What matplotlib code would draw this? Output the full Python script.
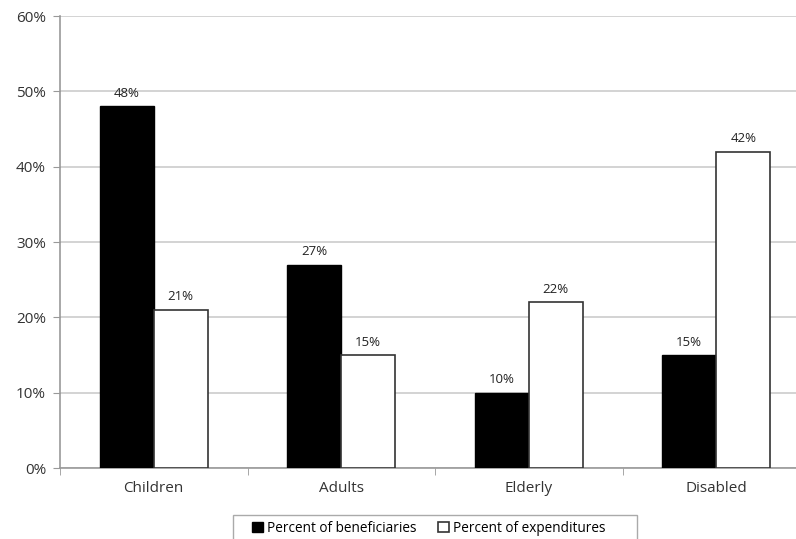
import matplotlib
matplotlib.use("Agg")
import matplotlib.pyplot as plt
from matplotlib.patches import Rectangle
import numpy as np

categories = ["Children", "Adults", "Elderly", "Disabled"]
beneficiaries = [48, 27, 10, 15]
expenditures = [21, 15, 22, 42]
series_names = ["Percent of beneficiaries", "Percent of expenditures"]
y_ticks = [0, 10, 20, 30, 40, 50, 60]

plt.rcParams["font.family"] = ["Open Sans", "DejaVu Sans"]

W, H = 796, 539
fig = plt.figure(figsize=(W / 100, H / 100), dpi=100)
# the plot area runs past the right edge of the canvas
ax = fig.add_axes([60 / W, 1 - 468 / H, 750 / W, 452 / H])

x = np.arange(len(categories))
w = 0.288
b1 = ax.bar(x - w / 2, beneficiaries, w, color="black", edgecolor="black",
            linewidth=1, label=series_names[0], zorder=3)
b2 = ax.bar(x + w / 2, expenditures, w, color="white", edgecolor="#333333",
            linewidth=1.2, label=series_names[1], zorder=3)

for rect, v in list(zip(b1, beneficiaries)) + list(zip(b2, expenditures)):
    ax.text(rect.get_x() + rect.get_width() / 2, v + 1.7, f"{v}%",
            ha="center", va="center", fontsize=9.5, color="#222222")

ax.set_xlim(-0.5, len(categories) - 0.5)
ax.set_ylim(0, 60)
ax.set_yticks(y_ticks)
ax.set_yticklabels([f"{t}%" for t in y_ticks], fontsize=11, color="#333333")
ax.set_xticks(x)
ax.set_xticklabels(categories, fontsize=11, color="#333333")
ax.tick_params(axis="x", length=0, pad=9)
ax.tick_params(axis="y", length=5, color="#999999", pad=5)
# category separator ticks along the baseline
ax.set_xticks(np.arange(len(categories) + 1) - 0.5, minor=True)
ax.tick_params(axis="x", which="minor", length=5, color="#999999")

ax.yaxis.grid(True, color="#cccccc", linewidth=1.2, zorder=0)
ax.set_axisbelow(True)
for s in ["top", "right"]:
    ax.spines[s].set_visible(False)
ax.spines["left"].set_color("#999999")
ax.spines["bottom"].set_color("#999999")
ax.spines["left"].set_linewidth(1.2)
ax.spines["bottom"].set_linewidth(1.2)

# legend box, open at the bottom edge of the canvas
fig.patches.append(Rectangle((233 / W, -0.05), (637 - 233) / W, 0.05 + 1 - 515 / H,
                             transform=fig.transFigure, facecolor="white",
                             edgecolor="#aaaaaa", linewidth=1.0, zorder=1))
leg = fig.legend(handles=[b1, b2], labels=series_names, loc="center left",
                 bbox_to_anchor=(252 / W, 1 - 528 / H), ncol=2,
                 fontsize=9.8, frameon=False,
                 handlelength=0.8, handleheight=0.8, handletextpad=0.3,
                 columnspacing=1.6, borderpad=0, borderaxespad=0)
leg.set_zorder(2)

fig.savefig("out.png", dpi=100)
